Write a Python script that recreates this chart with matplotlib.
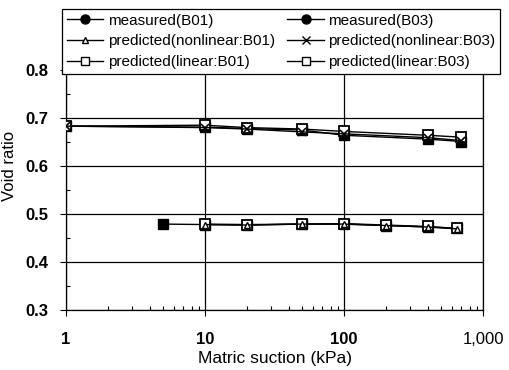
import matplotlib
matplotlib.use("Agg")
import matplotlib.pyplot as plt
from matplotlib.lines import Line2D
from matplotlib.ticker import FixedLocator, FuncFormatter, LogLocator, MultipleLocator

plt.rcParams['font.family'] = ['Liberation Sans', 'DejaVu Sans']

# B03 (upper series)
x_b03 = [1, 10, 20, 50, 100, 400, 700]
meas_b03 = [0.683, 0.681, 0.678, 0.675, 0.664, 0.656, 0.651]
nonlin_b03 = [0.683, 0.680, 0.677, 0.671, 0.667, 0.659, 0.653]
lin_b03 = [0.683, 0.685, 0.680, 0.677, 0.672, 0.664, 0.660]

# B01 (lower series)
x_meas_b01 = [5, 10, 20, 50, 100, 200, 400, 650]
meas_b01 = [0.479, 0.478, 0.477, 0.479, 0.479, 0.476, 0.473, 0.470]
x_pred_b01 = [10, 20, 50, 100, 200, 400, 650]
nonlin_b01 = [0.478, 0.477, 0.479, 0.479, 0.476, 0.473, 0.469]
lin_b01 = [0.479, 0.478, 0.479, 0.480, 0.477, 0.474, 0.470]

labels = ["measured(B01)", "predicted(nonlinear:B01)", "predicted(linear:B01)",
          "measured(B03)", "predicted(nonlinear:B03)", "predicted(linear:B03)"]

fig = plt.figure(figsize=(5.09, 3.70), dpi=100)
ax = fig.add_axes([66/509, 1-310/370, (483-66)/509, (310-22)/370])

lw = 1.0
ax.plot(x_pred_b01, lin_b01, '-', color='black', lw=lw, marker='s', ms=6.5,
        mfc='white', mec='black', mew=1.3, zorder=3)
ax.plot(x_pred_b01, nonlin_b01, '-', color='black', lw=lw, marker='^', ms=5,
        mfc='white', mec='black', mew=1.0, zorder=4)
ax.plot(x_meas_b01, meas_b01, '-', color='black', lw=lw, marker='s', ms=6.5,
        mfc='black', mec='black', zorder=2)

ax.plot(x_b03, meas_b03, '-', color='black', lw=lw, marker='s', ms=6.5,
        mfc='black', mec='black', zorder=2)
ax.plot(x_b03, nonlin_b03, '-', color='black', lw=lw, marker='x', ms=6,
        mec='black', mew=1.2, zorder=4)
ax.plot(x_b03, lin_b03, '-', color='black', lw=lw, marker='s', ms=6.5,
        mfc='white', mec='black', mew=1.3, zorder=3)

ax.set_xscale('log')
ax.set_xlim(1, 1000)
ax.set_ylim(0.3, 0.9)
ax.xaxis.set_major_locator(FixedLocator([1, 10, 100, 1000]))
ax.xaxis.set_major_formatter(FuncFormatter(lambda v, p: f"{int(round(v)):,}"))
ax.xaxis.set_minor_locator(LogLocator(base=10, subs=range(2, 10)))
ax.xaxis.set_minor_formatter(FuncFormatter(lambda v, p: ""))
ax.yaxis.set_major_locator(FixedLocator([0.3, 0.4, 0.5, 0.6, 0.7, 0.8]))
ax.yaxis.set_major_formatter(FuncFormatter(lambda v, p: f"{v:.1f}"))
ax.yaxis.set_minor_locator(MultipleLocator(0.05))

ax.tick_params(axis='both', which='major', direction='out', length=4, width=0.8,
               labelsize=12)
ax.tick_params(axis='x', which='major', pad=12)
ax.tick_params(axis='y', which='major', pad=9)
ax.tick_params(axis='both', which='minor', direction='in', length=3, width=0.8)
fig.canvas.draw()
for lab in ax.get_xticklabels() + ax.get_yticklabels():
    lab.set_fontweight('bold')
ax.get_xticklabels()[-1].set_fontweight('normal')

ax.grid(True, which='major', color='black', lw=0.9)
for s in ax.spines.values():
    s.set_linewidth(0.9)

ax.set_xlabel("Matric suction (kPa)", fontsize=12.5, labelpad=3)
ax.set_ylabel("Void ratio", fontsize=12, labelpad=6)

handles = [
    Line2D([], [], color='black', lw=lw, marker='o', ms=6.5, mfc='black'),
    Line2D([], [], color='black', lw=lw, marker='^', ms=5, mfc='white', mec='black'),
    Line2D([], [], color='black', lw=lw, marker='s', ms=5.5, mfc='white', mec='black'),
    Line2D([], [], color='black', lw=lw, marker='o', ms=6.5, mfc='black'),
    Line2D([], [], color='black', lw=lw, marker='x', ms=6, mec='black'),
    Line2D([], [], color='black', lw=lw, marker='s', ms=5.5, mfc='white', mec='black'),
]
leg = fig.legend(handles, labels, ncol=2, loc='upper left',
                 bbox_to_anchor=(62/509, 1-9/370), fontsize=11, frameon=True,
                 fancybox=False, edgecolor='black', framealpha=1,
                 borderpad=0.3, handlelength=2.4, handletextpad=0.3,
                 columnspacing=0.8, labelspacing=0.45, borderaxespad=0)
leg.get_frame().set_linewidth(0.9)

fig.savefig("out.png", dpi=100)
